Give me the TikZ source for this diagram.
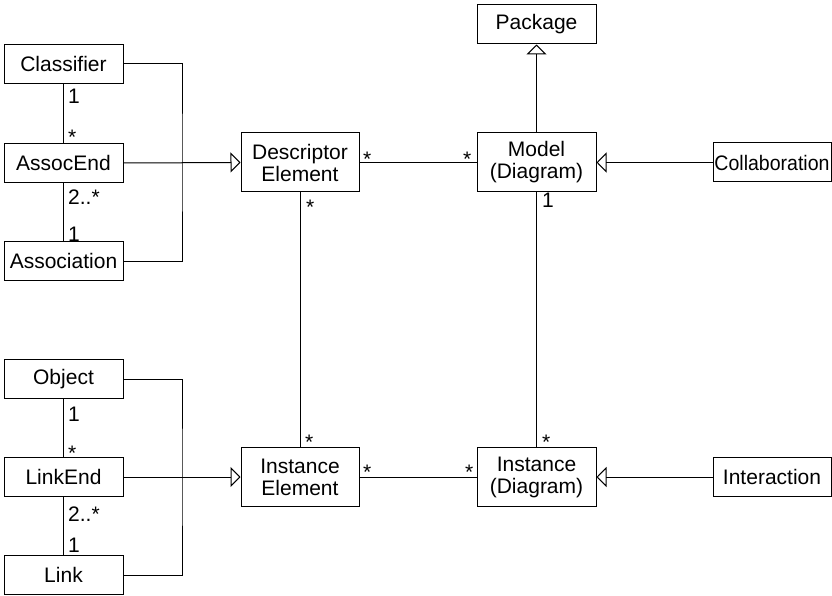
\documentclass[tikz,border=0pt]{standalone}
\usepackage{fontspec}
\setmainfont{Liberation Sans}
\usetikzlibrary{arrows.meta}
\tikzset{
  box/.style={draw, line width=1pt, rectangle, inner sep=0pt, minimum width=119pt, minimum height=39pt, align=center, font=\fontsize{21}{22}\selectfont},
  tallbox/.style={box, minimum width=118pt, minimum height=59pt},
  mult/.style={inner sep=0pt, anchor=north west, font=\fontsize{21}{22}\selectfont},
  conn/.style={line width=1pt},
  gen/.style={line width=1pt, -{Triangle[open, length=10pt, width=20pt]}}
}
\begin{document}
\begin{tikzpicture}[x=1pt,y=-1pt]
\useasboundingbox (0,0) rectangle (832,596);
% left upper group
\node[box] (classifier) at (63.5,64) {Classifier};
\node[box] (assocend) at (63.5,163) {AssocEnd};
\node[box] (association) at (63.5,261) {Association};
% left lower group
\node[box] (object) at (63.5,379) {Object};
\node[box] (linkend) at (63.5,477) {LinkEnd};
\node[box] (link) at (63.5,575) {Link};
% middle and right
\node[box] (package) at (536.5,24.5) {Package};
\node[tallbox] (descriptor) at (300,162.5) {Descriptor\\Element};
\node[tallbox, minimum width=119pt] (model) at (536.5,162.5) {Model\\(Diagram)};
\node[box, minimum width=118pt] (collab) at (772,162.5) {\scalebox{0.93}[1]{Collaboration}};
\node[tallbox] (instelem) at (300,477) {Instance\\Element};
\node[tallbox, minimum width=119pt] (instdiag) at (536.5,477) {Instance\\(Diagram)};
\node[box, minimum width=118pt] (interaction) at (772,477) {Interaction};
% bracket coordinates
\coordinate (b1) at (182,163);
\coordinate (b2) at (182,477);
% upper-left associations
\draw[conn] (classifier.south) -- (assocend.north);
\draw[conn] (assocend.south) -- (association.north);
\draw[conn] (classifier.east) -| (b1) |- (association.east);
\draw[gen] (assocend.east) -- (descriptor.west);
% lower-left associations
\draw[conn] (object.south) -- (linkend.north);
\draw[conn] (linkend.south) -- (link.north);
\draw[conn] (object.east) -| (b2) |- (link.east);
\draw[gen] (linkend.east) -- (instelem.west);
% central
\draw[conn] (descriptor.east) -- (model.west);
\draw[conn] (instelem.east) -- (instdiag.west);
\draw[conn] (descriptor.south) -- (instelem.north);
\draw[conn] (model.south) -- (instdiag.north);
\draw[gen] (model.north) -- (package.south);
\draw[gen] (collab.west) -- (model.east);
\draw[gen] (interaction.west) -- (instdiag.east);
% multiplicities
\node[mult] (m1) at (68,89) {1};
\node[mult] (m2) at (68,130) {*};
\node[mult] (m3) at (68,190) {2..*};
\node[mult] (m4) at (68,227) {1};
\node[mult] (m5) at (68,407) {1};
\node[mult] (m6) at (68,446) {*};
\node[mult] (m7) at (68,507) {2..*};
\node[mult] (m8) at (68,538) {1};
\node[mult] (m9) at (363,152) {*};
\node[mult] (m10) at (463,152) {*};
\node[mult] (m11) at (306,200) {*};
\node[mult] (m12) at (542,193) {1};
\node[mult] (m13) at (305,435) {*};
\node[mult] (m14) at (542,435) {*};
\node[mult] (m15) at (363,465) {*};
\node[mult] (m16) at (465,465) {*};
\end{tikzpicture}
\end{document}
